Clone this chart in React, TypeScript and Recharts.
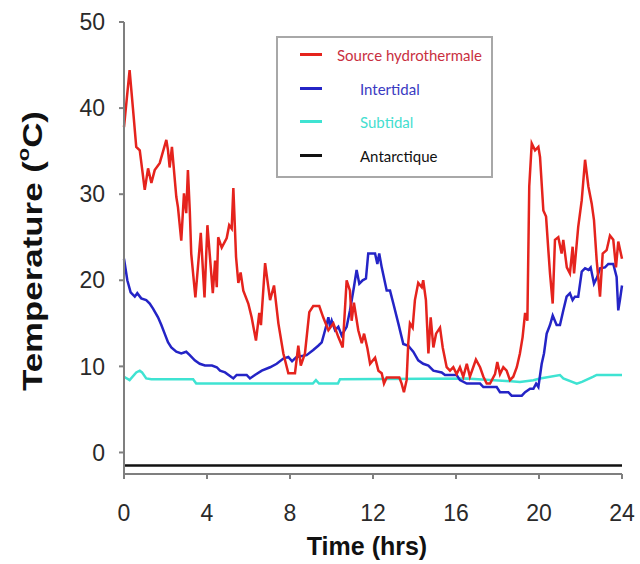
import { LineChart, Line, XAxis, YAxis, Legend } from 'recharts';

const SERIES_NAMES = ['Source hydrothermale', 'Intertidal', 'Subtidal', 'Antarctique'];
const HOUR_TICKS = [0, 4, 8, 12, 16, 20, 24];
const TEMP_TICKS = [0, 10, 20, 30, 40, 50];

// Source hydrothermale (red)
const hydroHours = [
  0, 0.27, 0.43, 0.59, 0.76, 1.0, 1.16, 1.32, 1.48, 1.72,
  2.04, 2.12, 2.2, 2.31, 2.52, 2.6, 2.76, 2.89, 3.0, 3.08,
  3.17, 3.24, 3.44, 3.7, 3.88, 4.02, 4.28, 4.39, 4.47, 4.54,
  4.71, 4.95, 5.07, 5.19, 5.27, 5.4, 5.51, 5.62, 5.75, 5.99,
  6.15, 6.36, 6.52, 6.6, 6.8, 7.04, 7.23, 7.44, 7.68, 7.92,
  8.24, 8.4, 8.52, 8.72, 8.93, 9.12, 9.41, 9.6, 9.85, 10.09,
  10.33, 10.54, 10.73, 10.89, 10.97, 11.08, 11.29, 11.46, 11.57, 11.73,
  11.86, 12.1, 12.26, 12.42, 12.53, 12.66, 12.98, 13.27, 13.38, 13.49,
  13.62, 13.7, 13.78, 13.91, 14.02, 14.18, 14.35, 14.42, 14.55, 14.67,
  14.78, 14.91, 15.04, 15.23, 15.36, 15.55, 15.71, 15.87, 16.03, 16.19,
  16.35, 16.52, 16.67, 16.83, 16.96, 17.16, 17.32, 17.48, 17.64, 17.88,
  17.99, 18.12, 18.28, 18.44, 18.6, 18.76, 18.93, 19.08, 19.21, 19.33,
  19.44, 19.53, 19.65, 19.81, 19.97, 20.05, 20.21, 20.34, 20.45, 20.53,
  20.66, 20.77, 20.93, 21.09, 21.17, 21.34, 21.49, 21.62, 21.69, 21.89,
  22.06, 22.22, 22.38, 22.54, 22.65, 22.78, 22.94, 23.07, 23.26, 23.42,
  23.58, 23.71, 23.82, 24.0,
];
const hydroTemp = [
  37.8, 44.4, 40, 35.5, 35.1, 30.5, 33, 31.3, 32.8, 33.6,
  36.3, 35.1, 33.1, 35.5, 29.7, 28.5, 24.6, 30.1, 27.8, 32.8,
  28.1, 23.1, 18, 25.5, 18, 26.4, 18.5, 22.3, 19.2, 25,
  23.8, 24.9, 26.4, 26, 30.7, 22.7, 19.7, 20.9, 18.8, 17.3,
  15.7, 13, 16.2, 14.8, 22, 17.7, 19.4, 15, 11.5, 9.2,
  9.2, 12.4, 10.1, 11.5, 16.3, 17, 17, 15.7, 14.2, 15,
  13.4, 12.2, 20, 18.8, 15.3, 17.4, 14.2, 12.7, 13.8, 12.1,
  10.3, 11, 9.5, 9.2, 8, 8.7, 8.7, 8.7, 8, 7,
  8.4, 12.7, 15, 14.5, 17.7, 19.7, 19.2, 20, 17.7, 11.5,
  15.7, 12.2, 13.8, 14.5, 12.2, 9.9, 9.5, 9.9, 9.1, 9.9,
  8.8, 10.3, 8.8, 9.9, 10.8, 9.9, 8.8, 8, 8, 9.1,
  10.5, 9.1, 9.9, 9.5, 8.4, 8.8, 9.9, 11.5, 13.4, 16.2,
  15.3, 30.9, 35.9, 35.1, 35.5, 34.3, 28.1, 27.4, 23.5, 20.8,
  17.3, 24.7, 25, 23.1, 24.7, 21.5, 20.8, 23.9, 20.8, 26.2,
  29.3, 34, 30.9, 28.9, 27, 22.3, 18.1, 23.1, 23.5, 25.2,
  24.7, 21.5, 24.5, 22.5,
];

// Intertidal (blue)
const interHours = [
  0, 0.16, 0.32, 0.52, 0.64, 0.83, 1.07, 1.24, 1.4, 1.64,
  1.8, 1.96, 2.12, 2.28, 2.52, 2.76, 3.0, 3.17, 3.41, 3.65,
  3.9, 4.24, 4.47, 4.63, 4.87, 5.27, 5.43, 5.91, 6.07, 6.31,
  6.64, 7.04, 7.36, 7.68, 7.92, 8.1, 8.32, 8.8, 9.12, 9.36,
  9.53, 9.69, 9.85, 9.93, 10.01, 10.17, 10.33, 10.49, 10.73, 10.89,
  11.08, 11.21, 11.34, 11.5, 11.66, 11.77, 12.1, 12.21, 12.3, 12.42,
  12.66, 12.82, 12.98, 13.22, 13.46, 13.7, 13.94, 14.18, 14.42, 14.67,
  14.91, 15.31, 15.47, 16.03, 16.19, 16.52, 17.16, 17.32, 17.96, 18.12,
  18.52, 18.68, 19.17, 19.33, 19.57, 19.73, 19.86, 19.97, 20.13, 20.24,
  20.37, 20.53, 20.66, 20.85, 21.01, 21.17, 21.33, 21.49, 21.62, 21.73,
  21.89, 22.06, 22.22, 22.38, 22.49, 22.65, 22.81, 22.94, 23.18, 23.34,
  23.58, 23.74, 23.82, 23.9, 24.0,
];
const interTemp = [
  22.5, 20, 18.6, 18.1, 18.5, 17.9, 17.7, 17.3, 16.7, 15.7,
  14.8, 13.8, 12.8, 12.2, 11.7, 11.5, 11.7, 11.3, 10.7, 10.3,
  10.1, 10.1, 9.9, 9.5, 9.3, 8.6, 9, 9, 8.6, 9,
  9.5, 9.9, 10.3, 10.9, 11.1, 10.6, 11.1, 11.3, 11.9, 12.4,
  12.8, 14.2, 15.7, 14.6, 15.3, 14.2, 14.6, 13.6, 14.6, 16.5,
  19.2, 21.2, 19.6, 20, 20.2, 23.1, 23.1, 21.9, 23.1, 21.5,
  18.8, 18.8, 17.3, 15, 12.6, 12.4, 11.7, 10.7, 10.3, 10.1,
  9.5, 9.3, 9, 9, 8.4, 8, 8, 7.6, 7.6, 7,
  7, 6.6, 6.6, 7, 7.4, 7.4, 8, 7.6, 10.3, 11.5,
  13.8, 14.8, 15.9, 14.8, 14.8, 16.5, 18.1, 18.5, 17.7, 18.1,
  18.1, 21, 21.4, 21.2, 21.5, 19.6, 20.4, 21.4, 21.5, 21.9,
  21.9, 20.4, 16.5, 17.7, 19.4,
];

// Subtidal (cyan)
const subHours = [0, 0.27, 0.59, 0.76, 0.87, 1.07, 1.32, 3.33, 3.48, 9.1, 9.25, 9.4, 10.31, 10.41, 16.5, 19.08, 19.73, 20.05, 21.01, 21.17, 21.82, 22.07, 22.62, 22.78, 24];
const subTemp = [8.8, 8.4, 9.3, 9.5, 9.3, 8.6, 8.5, 8.5, 8, 8, 8.4, 8, 8, 8.5, 8.6, 8.2, 8.4, 8.6, 9, 8.6, 8, 8.2, 8.8, 9, 9];

// Antarctique (black)
const antHours = [0, 24];
const antTemp = [-1.5, -1.5];

const RED = '#e5231d';
const BLUE = '#2424c6';
const CYAN = '#3fe3d2';
const BLACK = '#111111';
const AXIS_GRAY = '#7f7f7f';

const toPoints = (hours: number[], temps: number[]) => hours.map((h, i) => ({ h, temp: temps[i] }));

const LEGEND_STYLE = [
  { stroke: RED, text: '#c9303f', textLeft: 59 },
  { stroke: BLUE, text: '#3a3ac2', textLeft: 82 },
  { stroke: CYAN, text: '#45ded0', textLeft: 82 },
  { stroke: BLACK, text: '#111111', textLeft: 82 },
];
const LEGEND_ROWS = [18, 52, 85, 119];

function LegendBox() {
  return (
    <div style={{ position: 'relative', width: 217, height: 142, border: '2px solid #a8a8a8', boxSizing: 'border-box', background: '#fff' }}>
      {SERIES_NAMES.map((name, i) => (
        <div key={name}>
          <div style={{ position: 'absolute', left: 22, top: LEGEND_ROWS[i] - 3, width: 22, height: 3, background: LEGEND_STYLE[i].stroke }} />
          <div style={{
            position: 'absolute', left: LEGEND_STYLE[i].textLeft, top: LEGEND_ROWS[i] - 11, lineHeight: '20px',
            fontFamily: 'Lato, "Open Sans", sans-serif', fontSize: 15, color: LEGEND_STYLE[i].text, whiteSpace: 'nowrap',
          }}>{name}</div>
        </div>
      ))}
    </div>
  );
}

// y title in the reference is drawn taller than the x title, so stretch it along its baseline
function tempLabel() {
  const cx = 33;
  const cy = 251;
  return (
    <text
      x={cx} y={cy} transform={`rotate(-90, ${cx}, ${cy})`} textAnchor="middle" dominantBaseline="central"
      textLength={280} lengthAdjust="spacingAndGlyphs"
      fontFamily='"Liberation Sans", Arial, sans-serif' fontWeight="bold" fontSize={27} fill="#111"
    >
      Temperature (<tspan fontSize={17} dy={-10}>o</tspan><tspan dy={10}>C)</tspan>
    </text>
  );
}

const tickStyle = { fontSize: 23, fill: '#2a2a2a', fontFamily: '"Liberation Sans", Arial, sans-serif' };

export default function App() {
  return (
    <div style={{ position: 'absolute', left: 0, top: 0, width: 640, height: 564, background: '#fff' }}>
      <LineChart width={640} height={564} margin={{ top: 22, right: 18, bottom: 9, left: 64 }}>
        <XAxis
          type="number" dataKey="h" domain={[0, 24]} ticks={HOUR_TICKS} interval={0}
          height={81} stroke={AXIS_GRAY} strokeWidth={2} tickSize={5} tickMargin={26}
          tick={tickStyle}
          label={{ value: 'Time (hrs)', position: 'insideBottom', offset: 0, dx: -6, fontSize: 25, fontWeight: 'bold', fill: '#111', fontFamily: '"Liberation Sans", Arial, sans-serif' }}
        />
        <YAxis
          type="number" domain={[-2.5, 50]} ticks={TEMP_TICKS} interval={0} allowDataOverflow
          width={60} stroke={AXIS_GRAY} strokeWidth={2} tickSize={5} tickMargin={14}
          tick={tickStyle}
          label={tempLabel}
        />
        <Legend
          layout="vertical" align="center" verticalAlign="middle"
          wrapperStyle={{ position: 'absolute', left: 276, top: 36, width: 217, height: 142 }}
          content={() => <LegendBox />}
        />
        <Line data={toPoints(antHours, antTemp)} dataKey="temp" name={SERIES_NAMES[3]} type="linear" stroke={BLACK} strokeWidth={2.5} dot={false} isAnimationActive={false} />
        <Line data={toPoints(subHours, subTemp)} dataKey="temp" name={SERIES_NAMES[2]} type="linear" stroke={CYAN} strokeWidth={2.5} dot={false} isAnimationActive={false} />
        <Line data={toPoints(interHours, interTemp)} dataKey="temp" name={SERIES_NAMES[1]} type="linear" stroke={BLUE} strokeWidth={2.5} dot={false} isAnimationActive={false} />
        <Line data={toPoints(hydroHours, hydroTemp)} dataKey="temp" name={SERIES_NAMES[0]} type="linear" stroke={RED} strokeWidth={2.5} dot={false} isAnimationActive={false} />
      </LineChart>
    </div>
  );
}
